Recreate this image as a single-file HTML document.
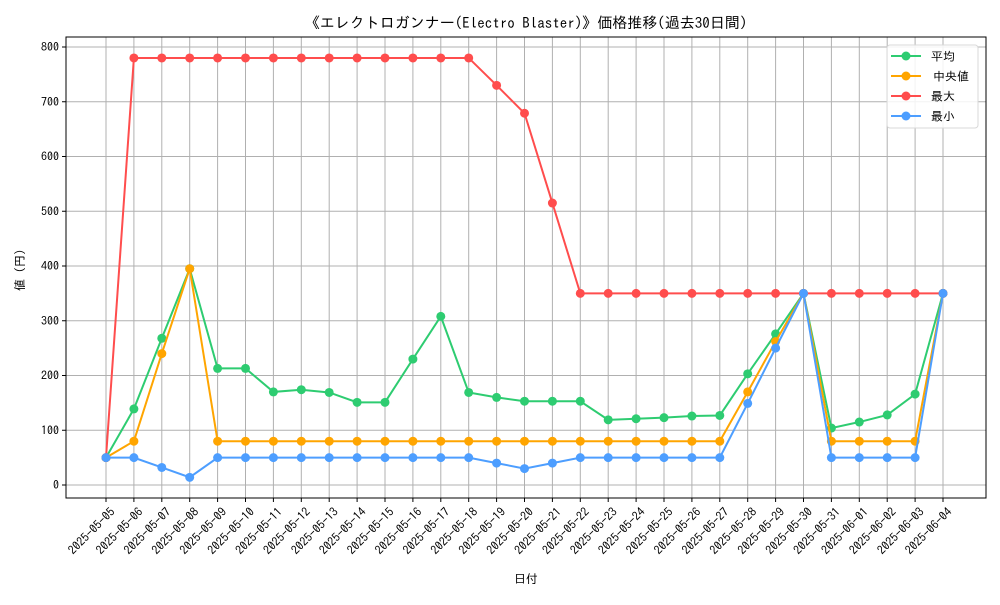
<!DOCTYPE html>
<html><head><meta charset="utf-8"><style>
body{margin:0;background:#fff}
svg text{font-family:"IPAGothic","Noto Sans CJK JP",sans-serif;fill:#000}
</style></head><body>
<svg id="chart" width="1000" height="600" viewBox="0 0 1000 600" xmlns="http://www.w3.org/2000/svg">
<rect width="1000" height="600" fill="#fff"/>
<text x="526" y="28" font-size="15" text-anchor="middle">《エレクトロガンナー(Electro Blaster)》価格推移(過去30日間)</text>
<g id="grid"></g><g id="series"></g><g id="axes"></g>
<text x="526" y="583" font-size="12" text-anchor="middle">日付</text>
<text x="24" y="267" font-size="12" text-anchor="middle" transform="rotate(-90 24 267)">値（円）</text>
<g id="legend"></g>
</svg>
<script>
const dates=["2025-05-05","2025-05-06","2025-05-07","2025-05-08","2025-05-09","2025-05-10","2025-05-11","2025-05-12","2025-05-13","2025-05-14","2025-05-15","2025-05-16","2025-05-17","2025-05-18","2025-05-19","2025-05-20","2025-05-21","2025-05-22","2025-05-23","2025-05-24","2025-05-25","2025-05-26","2025-05-27","2025-05-28","2025-05-29","2025-05-30","2025-05-31","2025-06-01","2025-06-02","2025-06-03","2025-06-04"];
const avgValues=[50,139,268,395,213,213,170,174,169,151,151,230,308,169,160,153,153,153,119,121,123,126,127,203,276,350,104,115,128,166,350];
const medianValues=[50,80,240,395,80,80,80,80,80,80,80,80,80,80,80,80,80,80,80,80,80,80,80,170,262,350,80,80,80,80,350];
const maxValues=[50,780,780,780,780,780,780,780,780,780,780,780,780,780,730,679,515,350,350,350,350,350,350,350,350,350,350,350,350,350,350];
const minValues=[50,50,32,14,50,50,50,50,50,50,50,50,50,50,40,30,40,50,50,50,50,50,50,149,250,350,50,50,50,50,350];
const yTicks=[0,100,200,300,400,500,600,700,800];
const seriesNames=["平均","中央値","最大","最小"];
const seriesColors=["#2ecc71","#ffa500","#ff4d4d","#4d9eff"];
const L=66,R=986,T=37,B=498;
const x0=106,x1=943;
function xs(i){return x0+(x1-x0)*i/(dates.length-1);}
function ys(v){return 485-v*(485-47)/800;}
const NS="http://www.w3.org/2000/svg";
function mk(tag,attrs,parent){const e=document.createElementNS(NS,tag);for(const k in attrs)e.setAttribute(k,attrs[k]);parent.appendChild(e);return e;}
const grid=document.getElementById('grid'),axes=document.getElementById('axes'),ser=document.getElementById('series'),leg=document.getElementById('legend');
dates.forEach((d,i)=>{
  const g=mk('line',{x1:xs(i),x2:xs(i),y1:T,y2:B,stroke:'#b0b0b0','stroke-width':1},grid);
  
  
  const t=mk('line',{x1:xs(i),x2:xs(i),y1:B,y2:B+4,stroke:'#000'},axes);
  
  
  const tx=xs(i)+4,ty=B+9;
  const lb=mk('text',{x:tx,y:ty,'font-size':12,'text-anchor':'end','dominant-baseline':'hanging',transform:`rotate(-45 ${tx} ${ty})`},axes);
  lb.textContent=d;
  
  
});
yTicks.forEach(v=>{
  const g=mk('line',{x1:L,x2:R,y1:ys(v),y2:ys(v),stroke:'#b0b0b0','stroke-width':1},grid);
  
  
  const t=mk('line',{x1:L-4,x2:L,y1:ys(v),y2:ys(v),stroke:'#000'},axes);
  
  
  const lb=mk('text',{x:L-7,y:ys(v)+4,'font-size':12,'text-anchor':'end'},axes);
  lb.textContent=v;
  
  
});
const fr=mk('rect',{x:L,y:T,width:R-L,height:B-T,fill:'none',stroke:'#000','stroke-width':1},axes);


[avgValues,medianValues,maxValues,minValues].forEach((vals,s)=>{
  const g=mk('g',{},ser);
  
  
  const p=mk('polyline',{points:vals.map((v,i)=>xs(i)+','+ys(v)).join(' '),fill:'none',stroke:seriesColors[s],'stroke-width':2},g);
  
  
  vals.forEach((v,i)=>{
    const c=mk('circle',{cx:xs(i),cy:ys(v),r:4.5,fill:seriesColors[s]},g);
    
    
  });
});
const lb=mk('rect',{x:887,y:45,width:91,height:83,rx:3,fill:'#fff','fill-opacity':0.85,stroke:'#d8d8d8'},leg);


seriesNames.forEach((n,s)=>{
  const y=56+s*20;
  const g=mk('g',{},leg);
  
  
  mk('line',{x1:891,x2:921,y1:y,y2:y,stroke:seriesColors[s],'stroke-width':2},g);
  mk('circle',{cx:906,cy:y,r:4.5,fill:seriesColors[s]},g);
  const t=mk('text',{x:s==1?933:931,y:y+4.5,'font-size':12},g);
  t.textContent=n;
});
</script>
</body></html>
